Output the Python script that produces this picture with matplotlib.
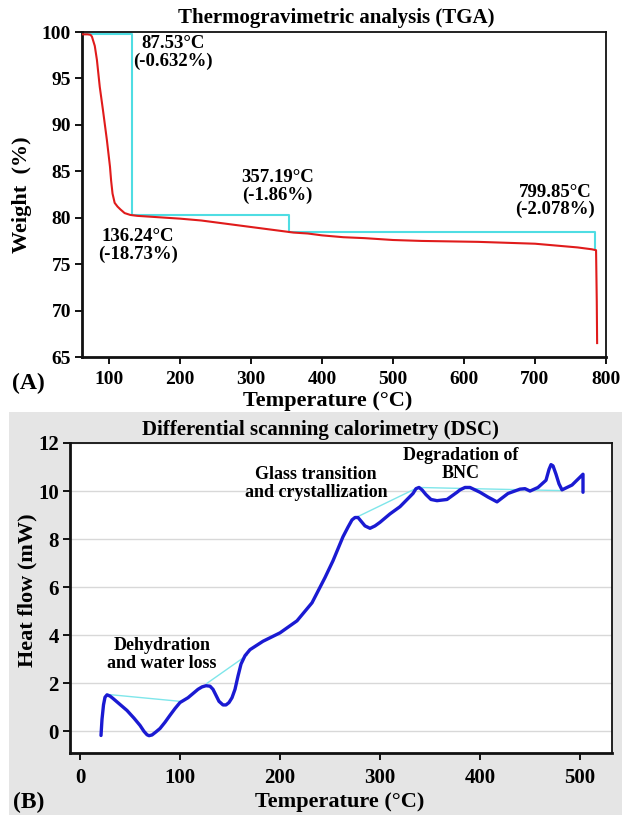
import matplotlib
matplotlib.use("Agg")
import matplotlib.pyplot as plt
from matplotlib.patches import Rectangle

plt.rcParams['font.family'] = ['Liberation Serif', 'DejaVu Serif']
plt.rcParams['font.weight'] = 'bold'

# ---------------- TGA data ----------------
tga_temp = [62, 70, 74, 76, 80, 83, 87, 91.5, 97, 101.4, 103, 105, 108, 112, 116,
            122, 130, 140, 160, 180, 200, 230, 260, 290, 320, 350, 360, 380, 400,
            430, 460, 500, 540, 580, 620, 660, 700, 730, 760, 780, 786, 787, 787.5]
tga_weight = [99.75, 99.75, 99.7, 99.5, 98.5, 97.0, 94.1, 91.6, 88.4, 85.5, 84.0, 82.6,
              81.6, 81.2, 80.9, 80.5, 80.3, 80.2, 80.1, 80.0, 79.9, 79.7, 79.4, 79.1,
              78.8, 78.5, 78.4, 78.3, 78.1, 77.9, 77.8, 77.6, 77.5, 77.45, 77.4, 77.3,
              77.2, 77.0, 76.8, 76.6, 76.5, 71.0, 66.5]
tga_step_temp = [62, 132.5, 353.5, 784.5]
tga_step_weight = [99.75, 80.3, 78.5, 76.7]
tga_labels = ["87.53°C\n(-0.632%)", "357.19°C\n(-1.86%)",
              "136.24°C\n(-18.73%)", "799.85°C\n(-2.078%)"]
tga_label_temp = [190, 337, 141, 728]
tga_label_weight = [97.8, 83.4, 77.0, 81.8]
tga_xticks = [100, 200, 300, 400, 500, 600, 700, 800]
tga_yticks = [65, 70, 75, 80, 85, 90, 95, 100]

# ---------------- DSC data ----------------
dsc_temp = [21, 22, 23.5, 25, 27, 30, 33, 40, 47, 54, 60, 64, 67, 69, 72, 76, 80,
            85, 90, 95, 100, 108, 118, 122, 126, 130, 133, 136, 139, 143, 146, 149,
            152, 155, 158, 161, 165, 170, 183, 200, 217, 232, 245, 253, 263, 268,
            272, 275, 278, 281, 285, 290, 295, 300, 310, 320, 333, 336, 339, 342,
            346, 351, 357, 367, 377, 380, 385, 390, 395, 400, 408, 417, 428, 440,
            445, 450, 458, 466, 469, 471, 473, 476, 479, 482, 492, 503, 503]
dsc_heat = [-0.17, 0.5, 1.1, 1.42, 1.52, 1.47, 1.37, 1.12, 0.87, 0.55, 0.25, 0.0,
            -0.14, -0.18, -0.15, -0.02, 0.12, 0.38, 0.67, 0.95, 1.2, 1.4, 1.75,
            1.85, 1.9, 1.88, 1.75, 1.5, 1.25, 1.1, 1.1, 1.2, 1.4, 1.75, 2.3, 2.8,
            3.15, 3.4, 3.75, 4.1, 4.6, 5.35, 6.4, 7.1, 8.1, 8.5, 8.8, 8.9, 8.9,
            8.75, 8.55, 8.45, 8.55, 8.7, 9.05, 9.35, 9.9, 10.1, 10.15, 10.05, 9.85,
            9.65, 9.6, 9.65, 9.95, 10.05, 10.15, 10.15, 10.05, 9.95, 9.75, 9.55,
            9.9, 10.08, 10.1, 10.0, 10.15, 10.45, 10.9, 11.1, 11.05, 10.7, 10.3,
            10.05, 10.25, 10.7, 9.95]
dsc_base_temp = [[27, 100], [127, 167], [276, 338], [338, 480]]
dsc_base_heat = [[1.54, 1.25], [2.0, 3.17], [8.9, 10.15], [10.15, 10.02]]
dsc_labels = ["Dehydration\nand water loss", "Glass transition\nand crystallization",
              "Degradation of\nBNC"]
dsc_label_temp = [82, 236, 381]
dsc_label_heat = [3.19, 10.31, 11.1]
dsc_xticks = [0, 100, 200, 300, 400, 500]
dsc_yticks = [0, 2, 4, 6, 8, 10, 12]

W, H = 622, 815
fig = plt.figure(figsize=(W / 100, H / 100), dpi=100)


def fx(px):
    return px / W


def fy(py):
    return 1 - py / H


# grey background for panel B
fig.patches.append(Rectangle((fx(9), 0), fx(613), fy(412),
                             transform=fig.transFigure, facecolor='#e5e5e5',
                             edgecolor='none', zorder=-10))

# ---------------- Panel A ----------------
ax1 = fig.add_axes([fx(82), fy(357), fx(606 - 82), (357 - 32) / H])
ax1.plot(tga_temp, tga_weight, color='#e01b1b', lw=1.5, zorder=3)
ax1.plot(tga_step_temp, tga_step_weight, color='#4fdde3', lw=1.5,
         drawstyle='steps-post', zorder=2)
ax1.set_xlim(62, 800)
ax1.set_ylim(65, 100)
ax1.set_xticks(tga_xticks)
ax1.set_yticks(tga_yticks)
ax1.tick_params(axis='both', direction='out', length=5, width=1.3,
                labelsize=14, pad=3)
ax1.tick_params(axis='x', pad=5)
for lbl in ax1.get_xticklabels() + ax1.get_yticklabels():
    lbl.set_fontweight('bold')
for s in ax1.spines.values():
    s.set_linewidth(1.3)
    s.set_color('#111111')
ax1.spines['left'].set_linewidth(2)
ax1.spines['bottom'].set_linewidth(2)
for t, x, y in zip(tga_labels, tga_label_temp, tga_label_weight):
    ax1.text(x, y, t, ha='center', va='center', fontsize=13.5,
             fontweight='bold', linespacing=1.05)

fig.text(fx(336), fy(18), "Thermogravimetric analysis (TGA)", ha='center',
         va='center', fontsize=15, fontweight='bold')
fig.text(fx(22), fy(195), "Weight  (%)", ha='center', va='center',
         rotation=90, fontsize=16, fontweight='bold')
fig.text(fx(328), fy(401), "Temperature (°C)", ha='center', va='center',
         fontsize=16, fontweight='bold')
fig.text(fx(12), fy(383), "(A)", ha='left', va='center', fontsize=17,
         fontweight='bold')

# ---------------- Panel B ----------------
ax2 = fig.add_axes([fx(70), fy(753), fx(612 - 70), (753 - 443) / H])
ax2.set_facecolor('white')
ax2.grid(axis='y', color='#d8d8d8', lw=1, zorder=0)
ax2.set_axisbelow(True)
for bx, by in zip(dsc_base_temp, dsc_base_heat):
    ax2.plot(bx, by, color='#7fe6ea', lw=1.0, zorder=2)
ax2.plot(dsc_temp, dsc_heat, color='#1a1ad2', lw=2.4, zorder=3,
         solid_joinstyle='round', solid_capstyle='round')
ax2.set_xlim(-10, 532)
ax2.set_ylim(-0.9, 12)
ax2.set_xticks(dsc_xticks)
ax2.set_yticks(dsc_yticks)
ax2.tick_params(axis='both', direction='out', length=5, width=1.3,
                labelsize=15, pad=3)
ax2.tick_params(axis='x', pad=6)
for lbl in ax2.get_xticklabels() + ax2.get_yticklabels():
    lbl.set_fontweight('bold')
for s in ax2.spines.values():
    s.set_linewidth(1.3)
    s.set_color('#111111')
ax2.spines['left'].set_linewidth(2)
ax2.spines['bottom'].set_linewidth(2)
for t, x, y in zip(dsc_labels, dsc_label_temp, dsc_label_heat):
    ax2.text(x, y, t, ha='center', va='center', fontsize=13,
             fontweight='bold', linespacing=1.1)

fig.text(fx(320), fy(430), "Differential scanning calorimetry (DSC)",
         ha='center', va='center', fontsize=15, fontweight='bold')
fig.text(fx(27), fy(590), "Heat flow (mW)", ha='center', va='center',
         rotation=90, fontsize=16, fontweight='bold')
fig.text(fx(340), fy(802), "Temperature (°C)", ha='center', va='center',
         fontsize=16, fontweight='bold')
fig.text(fx(13), fy(802), "(B)", ha='left', va='center', fontsize=17,
         fontweight='bold')

fig.savefig("out.png", dpi=100)
